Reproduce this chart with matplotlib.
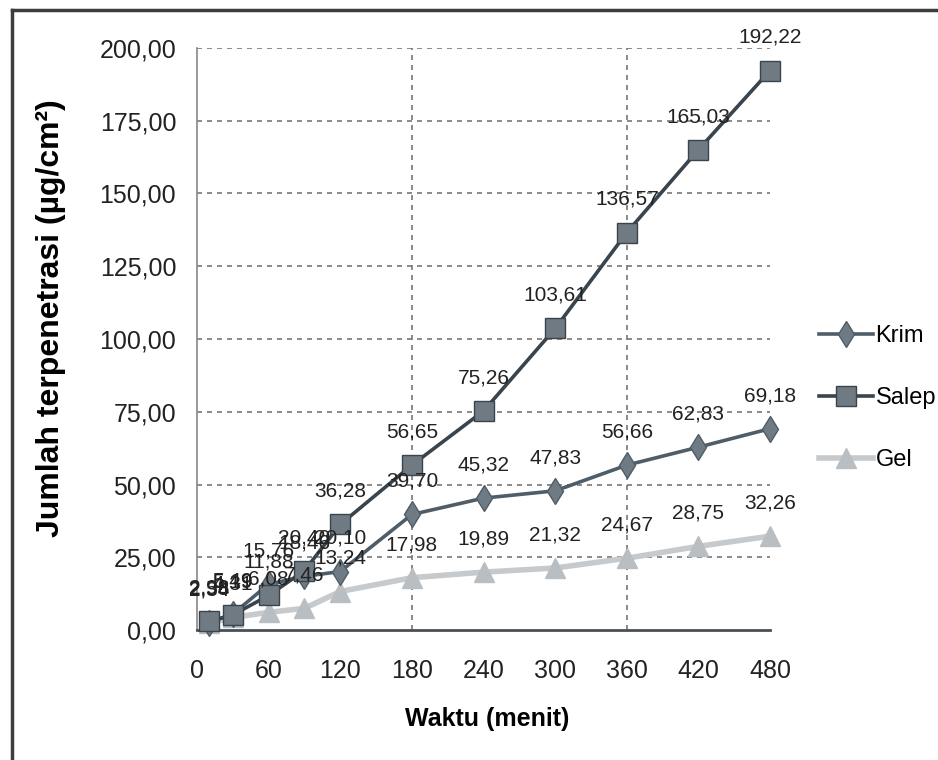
import matplotlib
matplotlib.use("Agg")
import matplotlib.pyplot as plt
from matplotlib.lines import Line2D

plt.rcParams['font.family'] = ['Liberation Sans', 'DejaVu Sans']

# waktu sampling (menit) dan jumlah terpenetrasi (ug/cm2)
waktu = [10, 30, 60, 90, 120, 180, 240, 300, 360, 420, 480]
krim = [2.58, 5.49, 15.76, 18.46, 20.10, 39.70, 45.32, 47.83, 56.66, 62.83, 69.18]
salep = [2.98, 5.19, 11.88, 20.40, 36.28, 56.65, 75.26, 103.61, 136.57, 165.03, 192.22]
gel = [2.34, 4.31, 6.08, 7.46, 13.24, 17.98, 19.89, 21.32, 24.67, 28.75, 32.26]

yticks = [0, 25, 50, 75, 100, 125, 150, 175, 200]
xticks = [0, 60, 120, 180, 240, 300, 360, 420, 480]

fig = plt.figure(figsize=(9.38, 7.6), dpi=100)
ax = fig.add_axes([0.210, 0.171, 0.611, 0.766])

series = [
    ("Krim", krim, dict(color="#4f5d68", lw=2.6, marker="d", ms=13,
                        mfc="#6e7b85", mec="#4f5d68", zorder=4)),
    ("Salep", salep, dict(color="#3a444d", lw=2.6, marker="s", ms=15,
                          mfc="#6f7a83", mec="#3a444d", zorder=5)),
    ("Gel", gel, dict(color="#c6cacd", lw=4, marker="^", ms=15,
                      mfc="#b9bec2", mec="#b9bec2", zorder=3)),
]

for nama, vals, st in series:
    ax.plot(waktu, vals, label=nama, clip_on=False, **st)
    for t, v in zip(waktu, vals):
        ax.annotate(f"{v:.2f}".replace(".", ","), (t, v), xytext=(0, 17),
                    textcoords="offset points", ha="center", va="bottom",
                    fontsize=15, color="#222222", zorder=6)

ax.set_xlim(0, 480)
ax.set_ylim(0, 200)
ax.set_xticks(xticks)
ax.set_xticklabels([str(x) for x in xticks], fontsize=18)
ax.set_yticks(yticks)
ax.set_yticklabels([f"{y:.2f}".replace(".", ",") for y in yticks], fontsize=18)
ax.tick_params(length=0, colors="#222222")
ax.tick_params(axis="y", pad=15)
ax.tick_params(axis="x", pad=21)

# grid: horizontal tiap 25, vertikal tiap 180 menit
for y in yticks[1:]:
    ax.axhline(y, color="#777777", lw=1.2, ls=(0, (3, 3)), zorder=1)
for x in [180, 360]:
    ax.axvline(x, color="#777777", lw=1.2, ls=(0, (3, 3)), zorder=1)

for s in ["top", "right"]:
    ax.spines[s].set_visible(False)
ax.spines["left"].set_color("#888888")
ax.spines["left"].set_linewidth(1.2)
ax.spines["bottom"].set_color("#4a4f55")
ax.spines["bottom"].set_linewidth(2)

ax.set_xlabel("Waktu (menit)", fontsize=18, fontweight="bold")
ax.xaxis.set_label_coords(0.506, -0.132)
ax.set_ylabel("Jumlah terpenetrasi (µg/cm²)", fontsize=23, fontweight="bold")
ax.yaxis.set_label_coords(-0.229, 0.536)

handles = [Line2D([0], [0], **{k: v for k, v in st.items() if k != "zorder"})
           for _, _, st in series]
fig.legend(handles, [s[0] for s in series], loc="center left",
           bbox_to_anchor=(0.873, 0.476), frameon=False, fontsize=17,
           handlelength=2.3, handletextpad=0.1, labelspacing=1.7,
           borderaxespad=0, borderpad=0)

# bingkai luar
fig.add_artist(Line2D([12 / 938, 1], [1 - 10 / 760, 1 - 10 / 760],
                      transform=fig.transFigure, color="#3d3d3d", lw=2.5))
fig.add_artist(Line2D([12 / 938, 12 / 938], [0, 1 - 10 / 760],
                      transform=fig.transFigure, color="#3d3d3d", lw=2.5))

fig.savefig("out.png", dpi=100)
